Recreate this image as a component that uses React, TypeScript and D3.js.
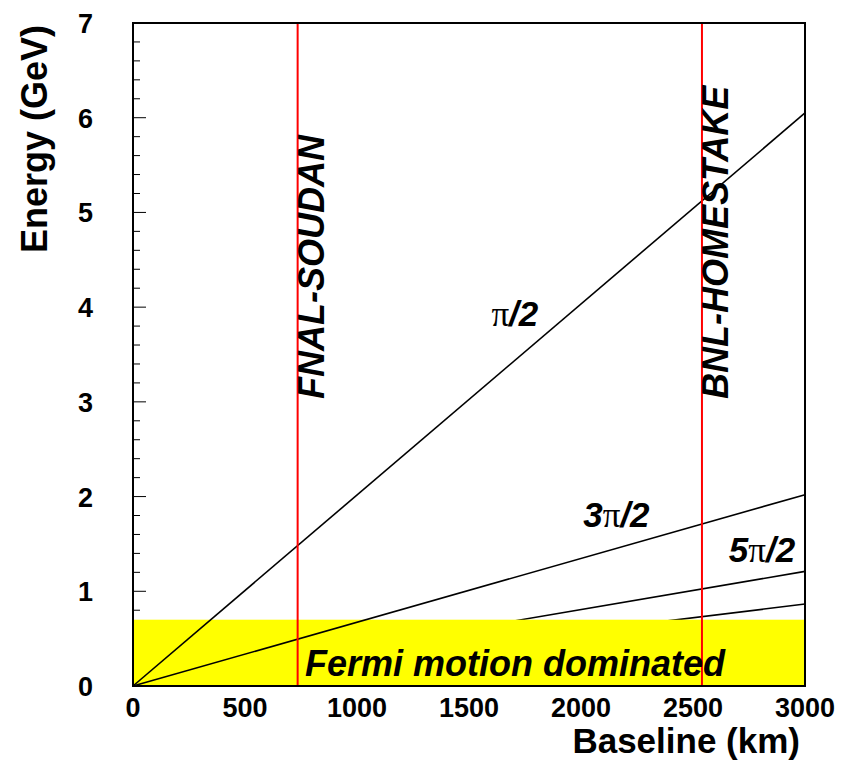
import * as d3 from "d3";

// baseline range (km) and energy range (GeV)
const baselineDomain = [0, 3000];
const energyDomain = [0, 7];
const xTicks = [0, 500, 1000, 1500, 2000, 2500, 3000];
const yTicks = [0, 1, 2, 3, 4, 5, 6, 7];

// oscillation maxima: energy reached at L = 3000 km
const phaseNumerators = ["", "3", "5", "7"];
const energyAt3000 = [6.05, 2.02, 1.21, 0.865];
// which curves are drawn on top of the yellow band
const onTop = [true, true, false, false];
// where the phase labels sit (km, GeV)
const labelAt = [
  [1600, 3.8],
  [2010, 1.68],
  [2660, 1.31],
  null,
];

const experiments = ["FNAL-SOUDAN", "BNL-HOMESTAKE"];
const experimentBaselines = [735, 2540];

const fermiLimit = 0.7;

export default function App() {
  const width = 842;
  const height = 761;
  const marginLeft = 133;
  const marginRight = 37;
  const marginTop = 23;
  const marginBottom = 75;

  const x = d3
    .scaleLinear()
    .domain(baselineDomain)
    .range([marginLeft, width - marginRight]);
  const y = d3
    .scaleLinear()
    .domain(energyDomain)
    .range([height - marginBottom, marginTop]);

  const line = d3
    .line<[number, number]>()
    .x((d) => x(d[0]))
    .y((d) => y(d[1]));

  const minorTicks = d3.range(0, 7.001, 0.2);
  const font = "'Liberation Sans', Arial, Helvetica, sans-serif";
  const bold = { fontFamily: font, fontWeight: 700 };

  const curve = (i: number) => (
    <path
      key={"c" + i}
      d={line([
        [0, 0],
        [3000, energyAt3000[i]],
      ])!}
      stroke="#000"
      strokeWidth={1.6}
      fill="none"
    />
  );

  return (
    <svg
      width={width}
      height={height}
      style={{ position: "absolute", left: 0, top: 0, background: "#fff" }}
    >
      {/* curves hidden under the band */}
      {energyAt3000.map((_, i) => (onTop[i] ? null : curve(i)))}

      {/* y axis ticks */}
      {minorTicks.map((t, i) => {
        const major = Math.abs(t - Math.round(t)) < 1e-6;
        return (
          <line
            key={"yt" + i}
            x1={x(0)}
            x2={x(0) + (major ? 13 : 7)}
            y1={y(t)}
            y2={y(t)}
            stroke="#000"
            strokeWidth={1}
          />
        );
      })}

      {/* Fermi motion band */}
      <rect
        x={x(0)}
        y={y(fermiLimit)}
        width={x(3000) - x(0)}
        height={y(0) - y(fermiLimit)}
        fill="#ffff00"
      />

      {energyAt3000.map((_, i) => (onTop[i] ? curve(i) : null))}

      {/* experiment baselines */}
      {experimentBaselines.map((b, i) => (
        <line
          key={"e" + i}
          x1={x(b)}
          x2={x(b)}
          y1={y(7)}
          y2={y(0)}
          stroke="#ff0000"
          strokeWidth={2}
        />
      ))}

      {/* frame */}
      <rect
        x={x(0)}
        y={y(7)}
        width={x(3000) - x(0)}
        height={y(0) - y(7)}
        fill="none"
        stroke="#000"
        strokeWidth={2}
      />

      {experiments.map((name, i) => (
        <text
          key={"n" + i}
          transform={`translate(${x(experimentBaselines[i]) + 26},${y(3.03)}) rotate(-90)`}
          {...bold}
          fontStyle="italic"
          fontSize={36}
          fill="#000"
        >
          {name}
        </text>
      ))}

      {/* phase labels */}
      {labelAt.map((p, i) =>
        p ? (
          <text
            key={"l" + i}
            x={x(p[0])}
            y={y(p[1])}
            fontSize={35}
            fill="#000"
          >
            <tspan {...bold} fontStyle="italic">
              {phaseNumerators[i]}
            </tspan>
            <tspan fontFamily="'Liberation Serif', 'Times New Roman', serif">
              π
            </tspan>
            <tspan {...bold} fontStyle="italic">
              /2
            </tspan>
          </text>
        ) : null
      )}

      <text
        x={515}
        y={y(0) - 10}
        textAnchor="middle"
        {...bold}
        fontStyle="italic"
        fontSize={36}
        fill="#000"
      >
        Fermi motion dominated
      </text>

      {/* tick labels */}
      {xTicks.map((t) => (
        <text
          key={"xl" + t}
          x={x(t)}
          y={y(0) + 31}
          textAnchor="middle"
          {...bold}
          fontSize={27}
          fill="#000"
        >
          {t}
        </text>
      ))}
      {yTicks.map((t) => (
        <text
          key={"yl" + t}
          x={x(0) - 40}
          y={y(t) + 10}
          textAnchor="end"
          {...bold}
          fontSize={27}
          fill="#000"
        >
          {t}
        </text>
      ))}

      {/* axis titles */}
      <text
        x={x(3000) - 5}
        y={y(0) + 67}
        textAnchor="end"
        {...bold}
        fontSize={35}
        fill="#000"
      >
        Baseline (km)
      </text>
      <text
        transform={`translate(47,${y(7) + 2}) rotate(-90)`}
        textAnchor="end"
        {...bold}
        fontSize={36}
        fill="#000"
      >
        Energy (GeV)
      </text>
    </svg>
  );
}
